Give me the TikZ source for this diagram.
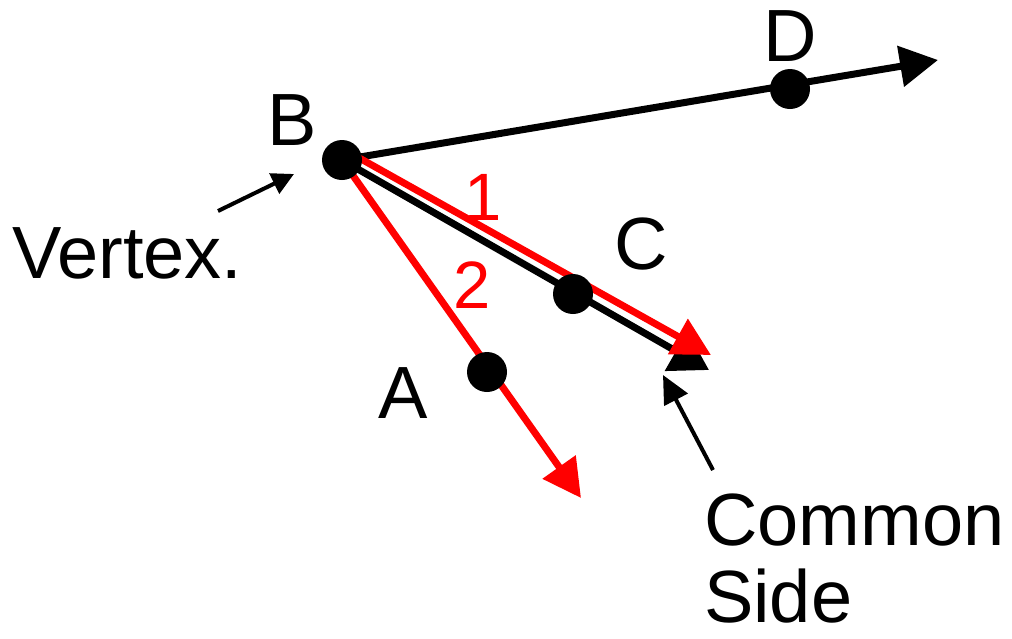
\documentclass[tikz,border=0pt]{standalone}
\usepackage{fontspec}
\setmainfont{Liberation Sans}
\usetikzlibrary{arrows.meta,backgrounds}
\definecolor{rayred}{HTML}{FF0000}

\begin{document}
\begin{tikzpicture}[
        x=1pt,y=-1pt,
        dot/.style={circle,fill=black,inner sep=0pt,minimum size=40pt},
        lbl/.style={inner sep=0pt,font=\fontsize{74}{77}\selectfont},
        num/.style={inner sep=0pt,text=rayred,font=\fontsize{67}{70}\selectfont},
        ray/.style={draw=black,line width=7pt,-{Triangle[length=38pt,width=40pt]}},
        redray/.style={draw=rayred,line width=7pt,-{Triangle[length=38pt,width=39pt]}},
        pointer/.style={draw=black,line width=4pt}
      ]
        \useasboundingbox (0,0) rectangle (1012,638);
        % points on the rays
        \node[dot] (B) at (342,160) {};
        \node[dot] (C) at (573,294) {};
        \node[dot] (D) at (790,89) {};
        \node[dot] (A) at (487,372) {};
        \coordinate (tipD) at (938,60);
        \coordinate (tipC) at (709,370);
        \coordinate (tip1) at (711,355);
        \coordinate (tip2) at (581,498);
        % labels
        \node[lbl,anchor=base] (labB) at (292,145) {B};
        \node[lbl,anchor=base] (labD) at (790,61) {D};
        \node[lbl,anchor=base] (labC) at (641,269) {C};
        \node[lbl,anchor=base] (labA) at (403,418) {A};
        \node[num,anchor=base] (one) at (483,220) {1};
        \node[num,anchor=base] (two) at (472,308) {2};
        \node[lbl,anchor=base west] (vertex) at (12,278) {Vertex.};
        \node[lbl,anchor=base west,align=left] (common) at (704,622) {Common\\Side};
        \coordinate (vfrom) at (218,211);
        \coordinate (vto) at (294,174);
        \coordinate (cfrom) at (713,470);
        \coordinate (cto) at (663,375);
        \draw[pointer,-{Triangle[length=22pt,width=22pt]}] (vfrom) -- (vto);
        \draw[pointer,-{Triangle[length=28pt,width=26pt]}] (cfrom) -- (cto);
        \begin{scope}[on background layer]
          \draw[ray] (B.center) -- (tipD);
          \draw[ray,-{Triangle[length=38pt,width=44pt]}] (B.center) -- (tipC);
          \draw[redray] ([shift={(3,-10)}]B.center) -- (tip1);
          \draw[redray] (B.center) -- (tip2);
        \end{scope}
      \end{tikzpicture}
\end{document}
